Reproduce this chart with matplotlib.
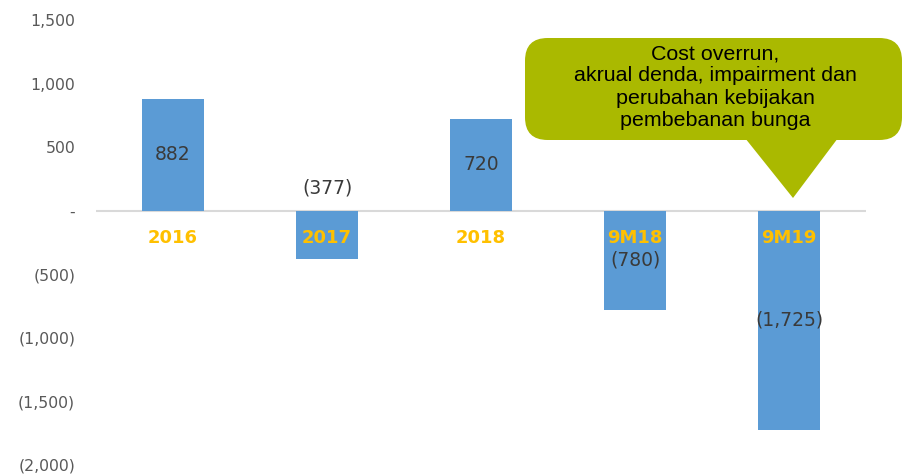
import matplotlib.pyplot as plt
from matplotlib.patches import FancyBboxPatch, Polygon

periods = ["2016", "2017", "2018", "9M18", "9M19"]
values = [882, -377, 720, -780, -1725]
value_labels = ["882", "(377)", "720", "(780)", "(1,725)"]
yticks = [1500, 1000, 500, 0, -500, -1000, -1500, -2000]
ytick_labels = ["1,500", "1,000", "500", "-", "(500)", "(1,000)", "(1,500)", "(2,000)"]
callout_text = "Cost overrun,\nakrual denda, impairment dan\nperubahan kebijakan\npembebanan bunga"

plt.rcParams['font.family'] = ['DejaVu Sans']

W, H = 905, 475
fig = plt.figure(figsize=(W / 100, H / 100), dpi=100)
ax = fig.add_axes([96 / W, 10 / H, (866 - 96) / W, (465 - 20) / H])

x = range(len(periods))
ax.bar(x, values, width=0.4, color="#5B9BD5", zorder=2)
ax.axhline(0, color="#D9D9D9", lw=1.5, zorder=1)

ax.set_xlim(-0.5, len(periods) - 0.5)
ax.set_ylim(-2000, 1500)
ax.set_yticks(yticks)
ax.set_yticklabels(ytick_labels, color="#595959", fontsize=11.3)
ax.tick_params(axis="y", length=0, pad=15)
ax.set_xticks([])
for s in ax.spines.values():
    s.set_visible(False)

# category labels just under the zero line
for i, p in enumerate(periods):
    ax.text(i, -212, p, ha="center", va="center", color="#FFC000",
            fontsize=13, fontweight="bold", zorder=3)

# value labels (centred in bar, 2017 sits above the axis)
for i, (v, lab) in enumerate(zip(values, value_labels)):
    y = v / 2
    if lab == "(377)":
        y = 180
    ax.text(i, y, lab, ha="center", va="center", color="#3A3A3A",
            fontsize=13.5, zorder=3)


# callout bubble, drawn in figure pixels
def px(xp, yp):
    return (xp / W, 1 - yp / H)


green = "#AAB900"
x0, y0 = px(525, 140)
x1, y1 = px(902, 38)
box = FancyBboxPatch((x0, y0), x1 - x0, y1 - y0,
                     boxstyle="round,pad=0,rounding_size=0.025",
                     transform=fig.transFigure, fc=green, ec="none",
                     mutation_aspect=W / H)
fig.patches.append(box)
tri = Polygon([px(745, 138), px(838, 138), px(793, 198)], closed=True,
              transform=fig.transFigure, fc=green, ec="none")
fig.patches.append(tri)
fig.text(715 / W, 1 - 87 / H, callout_text, ha="center", va="center",
         fontsize=15.4, color="black", linespacing=1.22,
         family=["Liberation Sans", "DejaVu Sans"])

fig.savefig("out.png", dpi=100)
